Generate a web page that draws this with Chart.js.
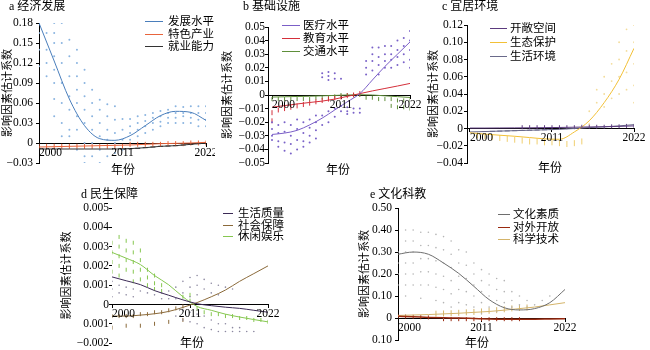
<!DOCTYPE html>
<html>
<head>
<meta charset="utf-8">
<script src="https://cdn.jsdelivr.net/npm/chart.js@4.4.1/dist/chart.umd.min.js"></script>
<style>
  body { margin: 0; width: 650px; height: 350px; position: relative; overflow: hidden; background: #fff;
         font-family: "Liberation Serif", "Noto Sans CJK SC", serif; color: #000; }
  canvas { position: absolute; }
  .t { position: absolute; font-size: 12px; line-height: 12px; white-space: nowrap; }
  .lg { position: absolute; font-size: 11.5px; line-height: 12px; white-space: nowrap; }
  .lg i { position: absolute; height: 0; border-top: 1px solid; }
</style>
</head>
<body>
<script>
const FONT = '"Liberation Serif", "Noto Sans CJK SC", serif';

// ---------- shared ----------
const years = [2000, 2001, 2002, 2003, 2004, 2005, 2006, 2007, 2008, 2009, 2010, 2011,
               2012, 2013, 2014, 2015, 2016, 2017, 2018, 2019, 2020, 2021, 2022];
const fitYears = [2000, 2002, 2004, 2006, 2008, 2010, 2012, 2014, 2016, 2018, 2020, 2022];
const xTicks = [2000, 2011, 2022];
const yTitle = "影响因素估计系数";
const xTitle = "年份";

// ---------- a 经济发展 ----------
const aNames = ["发展水平", "特色产业", "就业能力"];
const aYTicks = [-0.03, 0, 0.03, 0.06, 0.09, 0.12, 0.15, 0.18];
const aYLabels = ["−0.03", "0", "0.03", "0.06", "0.09", "0.12", "0.15", "0.18"];
const aLineLevel = [0.18, 0.123, 0.066, 0.026, 0.0065, 0.004, 0.011, 0.026, 0.041, 0.0475, 0.046, 0.034];
const aLineInd = [-0.006, -0.0055, -0.005, -0.0045, -0.004, -0.0035, -0.003, -0.002, -0.001, -0.0005, 0, 0.001];
const aLineJob = [-0.009, -0.009, -0.009, -0.009, -0.009, -0.009, -0.0085, -0.007, -0.005, -0.004, -0.002, 0];
const aDotLevel = [
  [0.18, 0.165, 0.14, 0.115], [0.165, 0.14, 0.12, 0.1], [0.18, 0.165, 0.15, 0.13, 0.11, 0.09, 0.066, 0.04],
  [0.18, 0.15, 0.12, 0.09, 0.06, 0.03, 0.01], [0.155, 0.13, 0.1, 0.07, 0.05, 0.02, 0.01],
  [0.14, 0.12, 0.1, 0.08, 0.06, 0.04, 0.02, -0.01], [0.11, 0.09, 0.07, 0.05, 0.03, 0, -0.02, -0.03],
  [0.08, 0.06, 0.04, 0.02, 0, -0.02], [0.065, 0.05, 0.03, 0.01, -0.01, -0.03], [0.058, 0.04, 0.02, 0.005, -0.02],
  [0.055, 0.035, 0.015, 0, -0.015], [0.036, 0.02, 0.005, -0.01], [0.036, 0.025, 0.015, 0.005],
  [0.04, 0.03, 0.02, 0.01], [0.042, 0.033, 0.025, 0.015], [0.045, 0.038, 0.03, 0.02], [0.048, 0.04, 0.032, 0.025],
  [0.05, 0.045, 0.038, 0.03], [0.055, 0.045, 0.038, 0.03], [0.054, 0.045, 0.04, 0.03], [0.055, 0.045, 0.038, 0.03],
  [0.055, 0.045, 0.035, 0.025], [0.055, 0.045, 0.035, 0.025]
];
const aDotInd = [[-0.005], [-0.005], [-0.005], [-0.005], [-0.005], [-0.005], [-0.005], [-0.005], [-0.005], [-0.005],
  [-0.005], [-0.005], [-0.002], [-0.002], [-0.002], [-0.002], [-0.002], [-0.001], [-0.001], [-0.001], [0], [0], [0]];
const aDotJob = [[], [], [], [], [], [], [], [], [], [], [], [-0.009], [-0.0085], [-0.008], [-0.007], [-0.006],
  [-0.005], [-0.0045], [-0.004], [-0.003], [-0.002], [-0.001], [0]];

// ---------- b 基础设施 ----------
const bNames = ["医疗水平", "教育水平", "交通水平"];
const bYTicks = [-0.05, -0.04, -0.03, -0.02, -0.01, 0, 0.01, 0.02, 0.03, 0.04, 0.05];
const bYLabels = ["−0.05", "−0.04", "−0.03", "−0.02", "−0.01", "0", "0.01", "0.02", "0.03", "0.04", "0.05"];
const bLineMed = [-0.029, -0.028, -0.026, -0.022, -0.017, -0.011, -0.005, 0.001, 0.011, 0.021, 0.03, 0.039];
const bLineEdu = [-0.009, -0.0078, -0.0066, -0.0055, -0.0045, -0.003, -0.001, 0.001, 0.003, 0.0048, 0.0066, 0.0085];
const bLineTra = [-0.0015, -0.0013, -0.0011, -0.0009, -0.0006, -0.0003, 0, 0.0002, 0, -0.0006, -0.0012, -0.0018];
const bDotMed = [
  [-0.02, -0.025, -0.03, -0.033], [-0.022, -0.028, -0.034, -0.038], [-0.02, -0.027, -0.035, -0.041],
  [-0.022, -0.03, -0.036, -0.043], [-0.018, -0.025, -0.033, -0.04], [-0.02, -0.028, -0.034, -0.038],
  [-0.018, -0.024, -0.03, -0.035], [-0.015, -0.02, -0.026, -0.032], [0.016, 0.013, -0.015, -0.022],
  [0.017, 0.014, 0.011, -0.012, -0.02], [0.016, 0.012, -0.01, -0.016], [0.012, -0.008, -0.012],
  [-0.009, -0.012, -0.014], [-0.01, -0.013], [-0.01, -0.013], [0.025, 0.02, 0.015], [0.035, 0.03, 0.025, 0.018],
  [0.035, 0.028, 0.022, 0.015], [0.036, 0.03, 0.025, 0.02], [0.036, 0.03, 0.026, 0.02], [0.04, 0.033, 0.028, 0.022],
  [0.042, 0.036, 0.03, 0.024], [0.047, 0.04, 0.033, 0.026, 0.02]
];
const bDotEdu = [[-0.013, -0.019], [-0.011], [-0.01], [-0.009], [-0.008], [-0.007], [-0.006], [-0.005], [-0.004],
  [-0.003], [-0.002], [-0.0015], [-0.0005], [0], [0.001], [], [], [], [], [], [], [], []];
const bDotTra = [[-0.003], [-0.003], [-0.003], [-0.003], [-0.003], [-0.003], [-0.003], [-0.002], [-0.002], [-0.002],
  [-0.001], [0], [0], [0], [0], [-0.002], [-0.002], [-0.003], [-0.003], [-0.003, -0.008], [-0.004, -0.009],
  [-0.004, -0.009], [-0.004, -0.01]];

// ---------- c 宜居环境 ----------
const cNames = ["开敞空间", "生态保护", "生活环境"];
const cYTicks = [-0.04, -0.02, 0, 0.02, 0.04, 0.06, 0.08, 0.10, 0.12];
const cYLabels = ["−0.04", "−0.02", "0", "0.02", "0.04", "0.06", "0.08", "0.10", "0.12"];
const cLineOpen = [0.0005, 0.0005, 0.0006, 0.0007, 0.0008, 0.001, 0.0012, 0.0015, 0.0018, 0.002, 0.0025, 0.003];
const cLineEco = [-0.005, -0.0065, -0.0078, -0.009, -0.0105, -0.012, -0.0125, -0.004, 0.009, 0.03, 0.057, 0.093];
const cLineLife = [-0.004, -0.0035, -0.003, -0.0025, -0.002, -0.0015, -0.001, 0, 0.001, 0.002, 0.003, 0.0045];
const cDotOpen = [[], [], [], [], [], [], [], [0.0015], [0.0015], [0.0015], [0.0015], [0.0015], [0.0015], [0.0015],
  [0.0015], [0.002], [0.002], [0.002], [0.002], [0.0025], [0.0025], [0.003], [0.003]];
const cDotEco = [[], [-0.008], [-0.009], [-0.01], [-0.011], [-0.012], [-0.013], [-0.014], [-0.015], [-0.015],
  [-0.016], [-0.016], [-0.017], [-0.018], [-0.017], [-0.015], [], [], [], [], [], [], []];
const cDotEcoHigh = [[], [], [], [], [], [], [], [], [], [], [], [], [], [], [], [], [0.02, 0.005], [0.045, 0.03],
  [0.06, 0.04, 0.025], [0.075, 0.055, 0.035], [0.1, 0.08, 0.06, 0.04], [0.115, 0.09, 0.065, 0.045],
  [0.12, 0.1, 0.075, 0.05, 0.03]];
const cDotLife = [[], [], [-0.0035], [-0.0033], [-0.003], [-0.0028], [-0.0025], [-0.0022], [-0.002], [-0.0018],
  [-0.0015], [-0.0012], [], [], [], [], [], [], [], [], [], [], []];

// ---------- d 民生保障 ----------
const dNames = ["生活质量", "社会保障", "休闲娱乐"];
const dYTicks = [-0.002, -0.001, 0, 0.001, 0.002, 0.003, 0.004, 0.005];
const dYLabels = ["−0.002", "0.001", "0", "0.001", "0.002", "0.003", "0.004", "0.005"];
const dLineLife = [0.00143, 0.00123, 0.00103, 0.00072, 0.00048, 0.00024, 0.00004, -0.00006, -0.00014, -0.0002, -0.0003, -0.0004];
const dLineSoc = [-0.0006, -0.0006, -0.00055, -0.00048, -0.00036, -0.00015, 0.0001, 0.0004, 0.00075, 0.0012, 0.0016, 0.002];
const dLineLei = [0.0027, 0.0024, 0.00207, 0.0015, 0.00102, 0.0004, -0.0001, -0.0003, -0.0005, -0.00065, -0.00078, -0.0009];
const dDotLife = [
  [0.0012, 0.0008, 0.0004], [0.001, 0.0006], [0.0009, 0.0005], [0.0008, 0.0004], [0.0007], [0.0006], [0.0005],
  [0.0006, 0.0003], [0.0007, 0.0003], [0.0009, 0.0003, -0.0006], [0.0012, 0.0006, -0.0003, -0.0008],
  [0.0014, 0.0009, 0.0004, -0.0004, -0.0009], [0.0015, 0.001, 0.0005, -0.0005, -0.001],
  [0.0013, 0.0008, -0.0006, -0.0012], [0.0011, 0.0006, -0.0008, -0.0013], [0.001, 0.0005, -0.001, -0.0014],
  [0.0009, -0.001, -0.0014], [0.0008, -0.0012, -0.0014], [-0.0012, -0.0014], [-0.0014], [-0.0014], [], []
];
const dDotSoc = [[-0.0006, -0.0012], [-0.0006], [-0.0006, -0.0011], [-0.0006], [-0.0005, -0.0011], [-0.0005],
  [-0.0004, -0.001], [-0.0004], [-0.0003, -0.0009], [-0.0002], [-0.0001, -0.0008], [], [], [], [], [], [], [], [],
  [], [], [], []];
const dDotLei = [
  [0.0032, 0.0027, 0.0022, 0.0017], [0.0035, 0.003, 0.0025, 0.002, 0.0015], [0.0033, 0.0028, 0.0023, 0.0018],
  [0.0032, 0.0027, 0.0022, 0.0017, 0.0012], [0.0028, 0.0023, 0.0018, 0.0013], [0.0018, 0.0014, 0.001],
  [0.0015, 0.0011, 0.0008], [0.001, 0.0007], [], [], [0.0004], [0.0005, 0.0002], [-0.0002], [-0.0004], [-0.0005],
  [-0.0005], [-0.0006], [-0.0006], [-0.0007], [-0.0007], [-0.0008], [-0.0008], [-0.0009]
];

// ---------- e 文化科教 ----------
const eNames = ["文化素质", "对外开放", "科学技术"];
const eYTicks = [-0.1, 0, 0.1, 0.2, 0.3, 0.4, 0.5];
const eYLabels = ["0.10", "0", "0.10", "0.20", "0.30", "0.40", "0.50"];
const eLineCul = [0.29, 0.3, 0.29, 0.25, 0.203, 0.144, 0.084, 0.047, 0.037, 0.043, 0.07, 0.13];
const eLineOpen = [0.008, 0.006, 0.003, 0.001, 0, -0.002, -0.004, -0.005, -0.005, -0.005, -0.004, -0.003];
const eLineSci = [0.012, 0.014, 0.016, 0.019, 0.022, 0.026, 0.03, 0.036, 0.043, 0.05, 0.06, 0.07];
const eDotCul = [
  [0.3, 0.25, 0.2, 0.15], [0.4, 0.35, 0.3, 0.25, 0.2, 0.15, 0.1], [0.4, 0.35, 0.3, 0.25, 0.2, 0.15],
  [0.39, 0.33, 0.27, 0.21, 0.15, 0.09], [0.39, 0.33, 0.27, 0.21, 0.15], [0.38, 0.32, 0.26, 0.2, 0.14, 0.08],
  [0.37, 0.31, 0.25, 0.19, 0.13, 0.07, 0], [0.35, 0.29, 0.23, 0.17, 0.11, 0.05], [0.31, 0.25, 0.19, 0.13, 0.07, 0],
  [0.3, 0.24, 0.18, 0.12, 0.06], [0.25, 0.2, 0.15, 0.1, 0.05, 0], [0.22, 0.17, 0.12, 0.07, 0.02],
  [0.2, 0.15, 0.1, 0.05], [0.18, 0.13, 0.08, 0.03], [0.17, 0.12, 0.07], [0.12, 0.08, 0.05], [0.1, 0.06],
  [0.08, 0.05], [0.06], [0.08], [0.1], [], []
];
const eDotOpen = [[0.008], [0.007], [0.006], [0.004], [0.003], [], [-0.005], [-0.005], [-0.005], [-0.005], [-0.005],
  [-0.005], [-0.005], [-0.005], [-0.005], [-0.005], [-0.005], [], [], [], [], [], []];
const eDotSci = [[], [], [], [], [], [0.02], [0.021], [0.022], [0.024], [0.026], [0.028], [0.03], [0.033], [0.036],
  [0.04], [0.044], [0.046], [0.048], [], [], [], [], []];

// ---------- helpers ----------
function pts(xs, vals) {
  return xs.map((x, i) => ({ x: x, y: vals[i] }));
}
function dotPts(cols) {
  return years.flatMap((yr, i) => cols[i].map(v => ({ x: yr, y: v })));
}
function line(vals, color, width) {
  return { data: pts(fitYears, vals), showLine: true, borderColor: color, borderWidth: width || 1,
           pointRadius: 0, cubicInterpolationMode: "monotone", order: 0 };
}
function dots(cols, color, style, r) {
  const ds = { data: dotPts(cols), showLine: false, order: 1, pointBorderWidth: 0,
               pointBackgroundColor: color, pointBorderColor: color, pointRadius: r || 1 };
  if (style === "v" || style === "h") {
    ds.pointStyle = "line";
    ds.pointRotation = style === "v" ? 90 : 0;
    ds.pointRadius = r || 2.5;
    ds.pointBorderWidth = 1;
  }
  return ds;
}

const xLabels = {
  id: "xLabels",
  afterDraw(chart) {
    const { ctx, scales } = chart;
    const y0 = scales.y.getPixelForValue(0) + 4;
    ctx.save();
    ctx.font = "11.5px " + FONT;
    ctx.fillStyle = "#000";
    ctx.textBaseline = "top";
    xTicks.forEach((v, i) => {
      ctx.textAlign = i === 0 ? "left" : "center";
      ctx.fillText(String(v), scales.x.getPixelForValue(v), y0);
    });
    ctx.restore();
  }
};

function addText(cls, text, left, top, center) {
  const d = document.createElement("div");
  d.className = cls;
  d.textContent = text;
  d.style.left = left + "px";
  d.style.top = top + "px";
  if (center) d.style.transform = "translateX(-50%)";
  document.body.appendChild(d);
}

function addLegend(names, colors, lineX, lineW, textX, ys) {
  names.forEach((n, i) => {
    const d = document.createElement("div");
    d.className = "lg";
    d.style.left = textX + "px";
    d.style.top = (ys[i] - 6) + "px";
    d.textContent = n;
    const s = document.createElement("i");
    s.style.left = (lineX - textX) + "px";
    s.style.width = lineW + "px";
    s.style.top = "6px";
    s.style.borderColor = colors[i];
    d.appendChild(s);
    document.body.appendChild(d);
  });
}

function panel(p) {
  const c = document.createElement("canvas");
  c.width = p.w; c.height = p.h;
  c.style.left = p.x + "px"; c.style.top = p.y + "px";
  c.style.width = p.w + "px"; c.style.height = p.h + "px";
  document.body.appendChild(c);

  new Chart(c.getContext("2d"), {
    type: "scatter",
    data: { datasets: p.datasets },
    options: {
      animation: false,
      responsive: false,
      maintainAspectRatio: false,
      layout: { padding: p.pad },
      plugins: { legend: { display: false }, tooltip: { enabled: false } },
      scales: {
        x: {
          type: "linear", position: { y: 0 }, min: p.xMin, max: 2022,
          afterBuildTicks: ax => { ax.ticks = xTicks.map(v => ({ value: v })); },
          ticks: { display: false },
          grid: { drawOnChartArea: false, tickLength: 3, color: "#000" },
          border: { color: "#000", width: 1 }
        },
        y: {
          type: "linear", min: p.yTicks[0], max: p.yTicks[p.yTicks.length - 1],
          afterBuildTicks: ax => { ax.ticks = p.yTicks.map(v => ({ value: v })); },
          afterFit: ax => { ax.width = p.axisW; },
          ticks: { autoSkip: false, color: "#000", font: { family: FONT, size: 11.5 }, padding: p.tickPad,
                   callback: (v, i) => p.yLabels[i] },
          grid: { drawOnChartArea: false, tickLength: 3, color: "#000" },
          border: { display: p.yBorder !== false, color: "#000", width: 1 },
          title: { display: true, text: yTitle, color: "#000", font: { family: FONT, size: 11 },
                   padding: { top: p.titlePad, bottom: 0 } }
        }
      }
    },
    plugins: [xLabels]
  });

  addText("t", p.title, p.titleX, p.titleY - 6, false);
  addText("t", xTitle, p.xTitleX, p.xTitleY - 6, true);
  addLegend(p.names, p.colors, p.lg[0], p.lg[1], p.lg[2], p.lg[3]);
}

// ---------- panels ----------
const aColors = ["#4a7ebb", "#e8643c", "#333333"];
panel({
  x: 0, y: 0, w: 215, h: 175, pad: { top: 23, bottom: 12, left: 0, right: 9 }, axisW: 39, tickPad: 3, titlePad: 1.4,
  xMin: 2000, yTicks: aYTicks, yLabels: aYLabels,
  title: "a 经济发展", titleX: 9, titleY: 6, xTitleX: 123, xTitleY: 170,
  names: aNames, colors: aColors, lg: [145, 18, 168, [21, 34, 46]],
  datasets: [
    line(aLineLevel, aColors[0]), line(aLineInd, aColors[1]), line(aLineJob, aColors[2]),
    dots(aDotLevel, "#8ab4e0"), dots(aDotInd, aColors[1], "v"), dots(aDotJob, aColors[2], "h")
  ]
});

const bColors = ["#7b5fc7", "#d42f3a", "#5f8f3a"];
panel({
  x: 215, y: 0, w: 215, h: 175, pad: { top: 27, bottom: 12, left: 0, right: 20 }, axisW: 53, tickPad: 0, titlePad: 6.4,
  xMin: 1999.36, yTicks: bYTicks, yLabels: bYLabels,
  title: "b 基础设施", titleX: 243, titleY: 6, xTitleX: 338, xTitleY: 170,
  names: bNames, colors: bColors, lg: [282, 18, 303, [25, 38, 51]],
  datasets: [
    line(bLineMed, bColors[0]), line(bLineEdu, bColors[1]), line(bLineTra, bColors[2]),
    dots(bDotMed, "#7a62c8"), dots(bDotEdu, bColors[1], "v"), dots(bDotTra, bColors[2], "v", 2)
  ]
});

const cColors = ["#5b3a7e", "#f2c037", "#6a6a8a"];
panel({
  x: 426, y: 0, w: 224, h: 175, pad: { top: 25, bottom: 12, left: 0, right: 16 }, axisW: 41, tickPad: 1, titlePad: 1.4,
  xMin: 1999.6, yTicks: cYTicks, yLabels: cYLabels,
  title: "c 宜居环境", titleX: 442, titleY: 6, xTitleX: 550, xTitleY: 168,
  names: cNames, colors: cColors, lg: [490, 17, 510, [28, 42, 56]],
  datasets: [
    line(cLineOpen, cColors[0]), line(cLineEco, cColors[1]), line(cLineLife, cColors[2]),
    dots(cDotOpen, cColors[0], "v", 2), dots(cDotEco, "#f0cf70", "v", 3), dots(cDotEcoHigh, "#f3dc9a", null, 0.9),
    dots(cDotLife, cColors[2], "h")
  ]
});

const dColors = ["#3b2a55", "#8b6a3a", "#86c750"];
panel({
  x: 60, y: 170, w: 260, h: 180, pad: { top: 38, bottom: 6, left: 0, right: 52 }, axisW: 52, tickPad: 0, titlePad: 0.4,
  xMin: 2000, yTicks: dYTicks, yLabels: dYLabels, yBorder: false,
  title: "d 民生保障", titleX: 81, titleY: 194, xTitleX: 192, xTitleY: 343,
  names: dNames, colors: dColors, lg: [223, 10, 238, [213, 224.5, 236]],
  datasets: [
    line(dLineLife, dColors[0]), line(dLineSoc, dColors[1]), line(dLineLei, dColors[2]),
    dots(dDotLife, "#8c88a0", null, 0.8), dots(dDotSoc, dColors[1], "v", 2), dots(dDotLei, dColors[2], "v", 2)
  ]
});

const eColors = ["#6e6e6e", "#9a2a10", "#d4b46a"];
panel({
  x: 330, y: 170, w: 250, h: 180, pad: { top: 38, bottom: 7, left: 0, right: 15 }, axisW: 68, tickPad: 3, titlePad: 28.4,
  xMin: 2000, yTicks: eYTicks, yLabels: eYLabels,
  title: "e 文化科教", titleX: 370, titleY: 194, xTitleX: 477, xTitleY: 343,
  names: eNames, colors: eColors, lg: [498, 12, 513, [214, 226.5, 239]],
  datasets: [
    line(eLineCul, eColors[0]), line(eLineOpen, eColors[1], 1.5), line(eLineSci, eColors[2]),
    dots(eDotCul, "#b4b4b4", null, 0.8), dots(eDotOpen, eColors[1], "v", 2), dots(eDotSci, eColors[2], "v", 3)
  ]
});
</script>
</body>
</html>
